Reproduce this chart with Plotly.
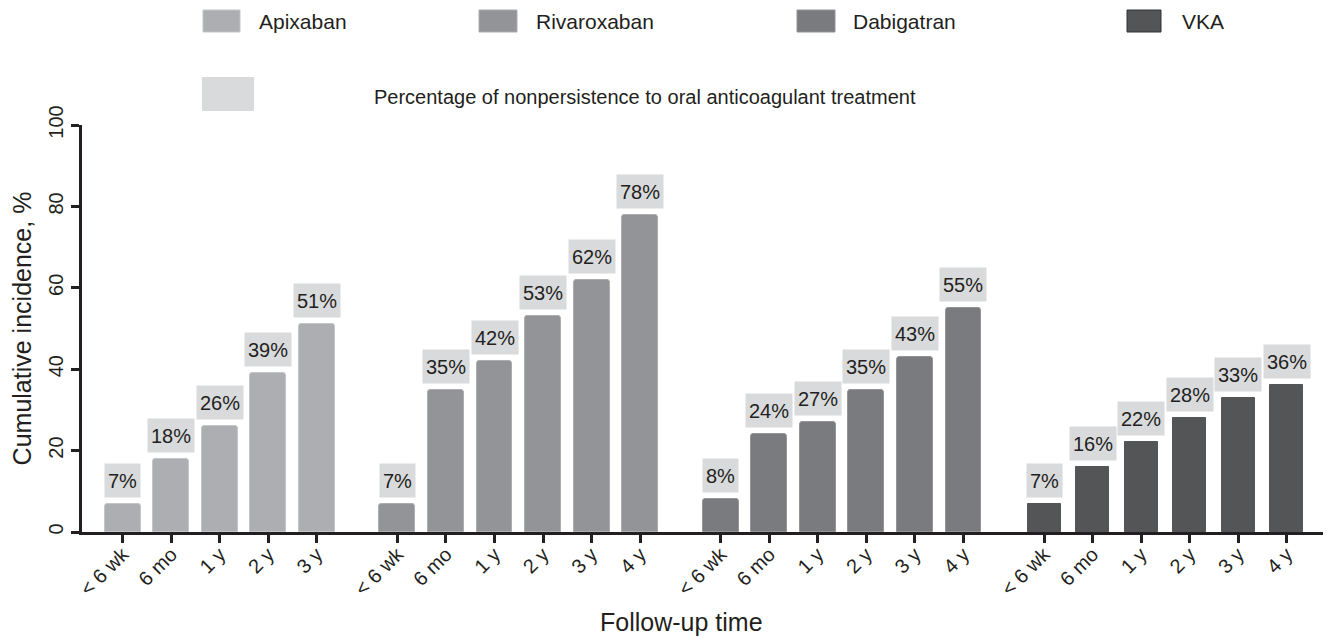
import plotly.graph_objects as go

# ---- data ----
drugs = ["Apixaban", "Rivaroxaban", "Dabigatran", "VKA"]
apixaban_times = ["< 6 wk", "6 mo", "1 y", "2 y", "3 y"]
other_times = ["< 6 wk", "6 mo", "1 y", "2 y", "3 y", "4 y"]
apixaban_vals = [7, 18, 26, 39, 51]
rivaroxaban_vals = [7, 35, 42, 53, 62, 78]
dabigatran_vals = [8, 24, 27, 35, 43, 55]
vka_vals = [7, 16, 22, 28, 33, 36]
legend_note = "Percentage of nonpersistence to oral anticoagulant treatment"
x_title = "Follow-up time"
y_title = "Cumulative incidence, %"

groups = [
    ("Apixaban", apixaban_times, apixaban_vals),
    ("Rivaroxaban", other_times, rivaroxaban_vals),
    ("Dabigatran", other_times, dabigatran_vals),
    ("VKA", other_times, vka_vals),
]

# ---- style ----
colors = {"Apixaban": "#adaeb1", "Rivaroxaban": "#939497",
          "Dabigatran": "#7a7b7e", "VKA": "#545557"}
edge = {"Apixaban": "#c4c5c7", "Rivaroxaban": "#acadaf",
        "Dabigatran": "#939496", "VKA": "#545557"}
widths = {"Apixaban": 0.74, "Rivaroxaban": 0.74, "Dabigatran": 0.74, "VKA": 0.68}
label_bg = "#d9dadc"
ink = "#231f20"
FONT = "Liberation Sans, Arial, Helvetica, sans-serif"
GAP = 0.66

# page body has an 8px margin: the figure starts at (8, 8) in the window
OFF = 8
W, H = 1331 - OFF, 638 - OFF
L, T = 82 - OFF, 125 - OFF          # plot area left / top in figure px
PR, PB = 1329 - OFF, 532 - OFF      # plot area right / bottom in figure px
R, B = W - PR, H - PB
pw, ph = PR - L, PB - T


def px(x):  # window px -> paper x
    return (x - OFF - L) / pw


def py(y):  # window px -> paper y
    return (PB - (y - OFF)) / ph


fig = go.Figure()
tickvals, ticktext = [], []
annotations = []
offset = 0.0
for name, times, vals in groups:
    xs = [offset + i for i in range(len(vals))]
    fig.add_trace(go.Bar(
        x=xs, y=vals, name=name, width=widths[name],
        marker=dict(color=colors[name], line=dict(color=edge[name], width=1),
                    cornerradius=3 if name != "VKA" else 0),
        showlegend=False, hoverinfo="y",
    ))
    tickvals += xs
    ticktext += times
    for x, v in zip(xs, vals):
        annotations.append(dict(
            x=x, y=v, xref="x", yref="y", text=f"{v}%", showarrow=False,
            yanchor="bottom", yshift=6, bgcolor=label_bg, borderpad=3, height=27,
            font=dict(size=20, color=ink, family=FONT),
        ))
    offset += len(vals) + GAP

# ---- manual legend ----
shapes = []
legend_items = [
    ("Apixaban", 203, 240, 257),
    ("Rivaroxaban", 479, 517, 534),
    ("Dabigatran", 797, 835, 851),
    ("VKA", 1127, 1161, 1180),
]
for name, x0, x1, tx in legend_items:
    shapes.append(dict(type="rect", xref="paper", yref="paper",
                       x0=px(x0), x1=px(x1), y0=py(32), y1=py(10),
                       fillcolor=colors[name],
                       line=dict(color=edge[name] if name != "VKA" else "#333333", width=1)))
    annotations.append(dict(x=px(tx), y=py(21), xref="paper", yref="paper",
                            text=name, showarrow=False, xanchor="left", yanchor="middle",
                            font=dict(size=21, color=ink, family=FONT)))
shapes.append(dict(type="rect", xref="paper", yref="paper",
                   x0=px(202), x1=px(254), y0=py(111), y1=py(77),
                   fillcolor=label_bg, line=dict(width=0)))
annotations.append(dict(x=px(372), y=py(97), xref="paper", yref="paper",
                        text=legend_note, showarrow=False, xanchor="left", yanchor="middle",
                        font=dict(size=20, color=ink, family=FONT)))
# x-axis title (placed like the reference, slightly left of the plot centre)
annotations.append(dict(x=px(681), y=py(622), xref="paper", yref="paper",
                        text=x_title, showarrow=False, xanchor="center", yanchor="middle",
                        font=dict(size=25, color=ink, family=FONT)))

fig.update_layout(
    width=W, height=H,
    margin=dict(l=L, r=R, t=T, b=B, pad=0),
    plot_bgcolor="white", paper_bgcolor="white",
    font=dict(family=FONT, size=20, color=ink),
    bargap=0,
    annotations=annotations,
    shapes=shapes,
    xaxis=dict(
        range=[-0.838, 24.85], tickmode="array", tickvals=tickvals, ticktext=ticktext,
        tickangle=-45, ticks="outside", ticklen=8, tickwidth=2.5, tickcolor=ink,
        ticklabelstandoff=-8,
        showline=True, linecolor=ink, linewidth=2.5, showgrid=False, zeroline=False,
        tickfont=dict(size=20, color=ink),
    ),
    yaxis=dict(
        range=[0, 100], tickvals=[0, 20, 40, 60, 80, 100], tickangle=-90,
        ticks="outside", ticklen=8, tickwidth=2.5, tickcolor=ink,
        showline=True, linecolor=ink, linewidth=2.5, showgrid=False, zeroline=False,
        tickfont=dict(size=20, color=ink),
        title=dict(text=y_title, font=dict(size=25, color=ink), standoff=10),
    ),
)

fig.write_html("out.html")
